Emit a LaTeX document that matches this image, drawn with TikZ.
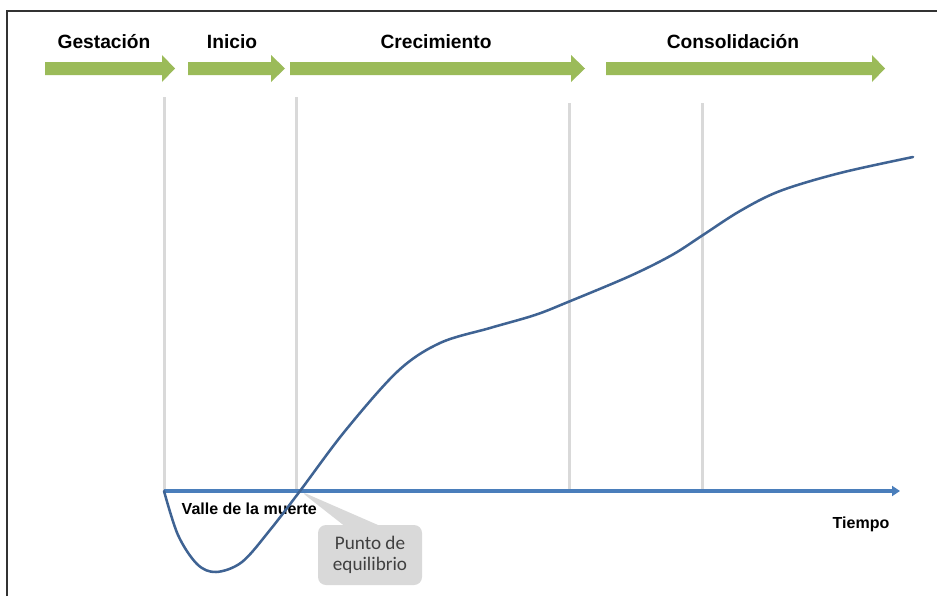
\documentclass[tikz,border=0pt]{standalone}
\usepackage{fontspec}
\setmainfont{Liberation Sans}
\newfontfamily\calloutfont{Carlito}
\usetikzlibrary{arrows.meta,shapes.callouts,positioning}
\definecolor{phasegreen}{HTML}{9BBB59}
\definecolor{axisblue}{HTML}{4A7EBB}
\definecolor{curveblue}{HTML}{3F6393}
\definecolor{guidegray}{HTML}{D9D9D9}
\definecolor{calloutgray}{HTML}{D9D9D9}
\definecolor{framegray}{HTML}{333333}
\tikzset{
	phase/.style={fill=phasegreen},
	phaselbl/.style={anchor=base,font=\bfseries\fontsize{14.4}{17}\selectfont},
	smalllbl/.style={anchor=base,font=\bfseries\fontsize{12}{14}\selectfont},
	guide/.style={draw=guidegray,line width=2.25pt},
	axis/.style={draw=axisblue,line width=2.4pt,-{Triangle[length=6pt,width=7.5pt]}},
	curve/.style={draw=curveblue,line width=1.9pt,line cap=round},
	callbox/.style={rectangle callout,fill=calloutgray,rounded corners=6pt,minimum width=78pt,minimum height=45pt,inner sep=0pt,align=center,text=black!75,font=\calloutfont\fontsize{14.4}{16}\selectfont,callout pointer width=26pt},
}
\begin{document}
\begin{tikzpicture}[x=0.75pt,y=-0.75pt]
	\useasboundingbox (0,0) rectangle (937,596);
	\draw[draw=framegray,line width=1.1pt] (7,596) -- (7,11) -- (937,11);
	
	% phase arrows
	\fill[phase] (45,62) -- (162,62) -- (162,55) -- (175,68.5) -- (162,82) -- (162,75) -- (45,75) -- cycle;
	\fill[phase] (188,62) -- (271,62) -- (271,55) -- (285,68.5) -- (271,82) -- (271,75) -- (188,75) -- cycle;
	\fill[phase] (290,62) -- (571,62) -- (571,55) -- (585,68.5) -- (571,82) -- (571,75) -- (290,75) -- cycle;
	\fill[phase] (606,62) -- (872,62) -- (872,55) -- (885,68.5) -- (872,82) -- (872,75) -- (606,75) -- cycle;
	\node (lblGest) at (104,48) [phaselbl] {Gestación};
	\node (lblInicio) at (232,48) [phaselbl] {Inicio};
	\node (lblCrec) at (436,48) [phaselbl] {Crecimiento};
	\node (lblCons) at (733,48) [phaselbl] {Consolidación};
	
	% guide lines
	\draw[guide] (164,97) -- (164,490);
	\draw[guide] (296,97) -- (296,490);
	\draw[guide] (569,103) -- (569,490);
	\draw[guide] (702,103) -- (702,490);
	
	\coordinate (orig) at (164,491);
	\coordinate (eq) at (300,491);
	\coordinate (axEnd) at (900,491);
	\node (callEq) at (370,555) [callbox,callout absolute pointer={(eq)}] {Punto de\\equilibrio};
	\node (lblValle) at (177,514) [smalllbl,anchor=base west] {Valle de la muerte};
	\node (lblTiempo) at (861,528) [smalllbl] {Tiempo};
	
	\draw[axis] (orig) -- (axEnd);
	\draw[curve] plot[smooth,tension=0.55] coordinates {(164,491) (178,535) (197,564) (216,572) (242,562) (270,530) (300,491) (345,431) (398,371) (440,343) (490,328) (535,315) (568,302) (630,276) (672,255) (703,235) (740,211) (780,191) (840,173) (913,157)};
\end{tikzpicture}
\end{document}
